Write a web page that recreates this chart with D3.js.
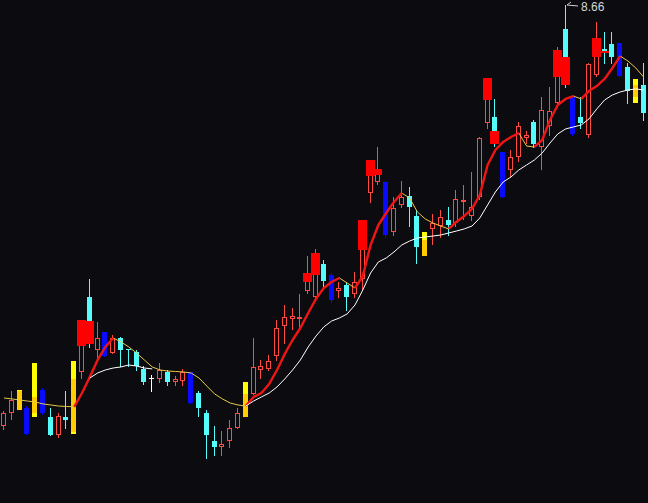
<!DOCTYPE html>
<html><head><meta charset="utf-8">
<script src="https://cdn.jsdelivr.net/npm/d3@7"></script>
<style>html,body{margin:0;padding:0;background:#0c0c10;overflow:hidden}</style>
</head><body>
<svg id="chart" width="648" height="503"></svg>
<script>
// ---- data (price values) ----
const openP = [
  5.88, 5.97, 5.99, 6.00, 5.97, 6.12, 5.94, 5.82, 5.94, 5.84,
  6.24, 6.73, 6.38, 6.50, 6.36, 6.46, 6.39, 6.37, 6.26, 6.20,
  6.19, 6.24, 6.17, 6.18, 6.24, 6.10, 5.97, 5.78, 5.74, 5.78,
  5.87, 5.94, 6.09, 6.25, 6.26, 6.34, 6.54, 6.59, 6.59, 6.77,
  6.73, 6.95, 6.88, 6.77, 6.81, 6.75, 6.85, 7.42, 7.49, 7.49,
  7.16, 7.34, 7.40, 7.27, 7.00, 7.18, 7.20, 7.24, 7.22, 7.36,
  7.27, 7.39, 7.88, 7.92, 7.69, 7.57, 7.66, 7.78, 7.89, 7.72,
  7.86, 8.01, 8.50, 8.05, 7.92, 7.80, 8.20, 8.37, 8.40, 8.41,
  8.25, 8.05, 8.13];
const highP = [
  5.98, 6.11, 6.12, 6.01, 6.30, 6.13, 6.00, 5.97, 6.11, 6.31,
  6.58, 6.85, 6.57, 6.50, 6.48, 6.47, 6.39, 6.38, 6.28, 6.22,
  6.30, 6.25, 6.21, 6.26, 6.24, 6.11, 5.99, 5.88, 5.85, 5.92,
  6.00, 6.17, 6.46, 6.32, 6.35, 6.58, 6.68, 6.66, 6.75, 7.00,
  7.05, 6.98, 6.89, 6.83, 6.83, 6.90, 7.24, 7.64, 7.72, 7.50,
  7.39, 7.50, 7.46, 7.31, 7.16, 7.28, 7.31, 7.33, 7.44, 7.47,
  7.56, 7.79, 8.18, 8.04, 7.69, 7.70, 7.89, 7.83, 7.90, 8.05,
  8.12, 8.38, 8.66, 8.06, 8.05, 8.28, 8.55, 8.48, 8.48, 8.41,
  8.28, 8.17, 8.28];
const lowP = [
  5.86, 5.93, 5.99, 5.83, 5.94, 5.96, 5.82, 5.81, 5.87, 5.83,
  6.20, 6.40, 6.33, 6.34, 6.36, 6.28, 6.28, 6.25, 6.16, 6.11,
  6.17, 6.15, 6.15, 6.15, 6.03, 5.95, 5.67, 5.69, 5.69, 5.74,
  5.87, 5.94, 6.09, 6.20, 6.25, 6.32, 6.43, 6.52, 6.53, 6.76,
  6.71, 6.79, 6.70, 6.73, 6.65, 6.73, 6.78, 7.36, 7.48, 7.13,
  7.14, 7.33, 7.20, 6.96, 7.00, 7.08, 7.13, 7.14, 7.20, 7.25,
  7.24, 7.38, 7.85, 7.73, 7.39, 7.53, 7.63, 7.75, 7.72, 7.58,
  7.80, 7.99, 8.12, 7.80, 7.85, 7.79, 8.19, 8.28, 8.28, 8.19,
  8.01, 8.01, 7.90];
const closeP = [
  5.97, 6.05, 6.11, 5.83, 6.07, 5.97, 5.82, 5.95, 5.92, 6.19,
  6.58, 6.42, 6.46, 6.34, 6.46, 6.38, 6.38, 6.28, 6.17, 6.20,
  6.25, 6.17, 6.19, 6.24, 6.03, 6.00, 5.82, 5.74, 5.76, 5.87,
  5.97, 6.09, 6.27, 6.28, 6.31, 6.53, 6.60, 6.61, 6.60, 6.89,
  7.02, 6.84, 6.71, 6.79, 6.73, 6.83, 7.24, 7.64, 7.58, 7.14,
  7.32, 7.39, 7.33, 7.06, 7.11, 7.22, 7.26, 7.21, 7.38, 7.37,
  7.33, 7.78, 8.18, 7.74, 7.39, 7.66, 7.86, 7.80, 7.74, 7.97,
  7.96, 8.36, 8.13, 7.81, 7.88, 8.27, 8.44, 8.34, 8.32, 8.19,
  8.09, 8.13, 7.95];
// signal per bar: '' none, 'R' strong-up mark, 'B' blue stick, 'Y' yellow stick
const signal = [
  '', '', 'Y', 'B', 'Y', 'B', '', '', '', 'Y',
  'R','R', '', 'B', '', '', '', '', '', '',
  '', '', '', '', 'B', '', '', '', '', '',
  '', 'Y', '', '', '', '', '', '', '', 'R',
  'R', '', 'B', '', '', '', 'R','R','R','B',
  '', '', '', '', 'Y', '', '', '', '', '',
  '', '', 'R','R','B', '', '', '', '', '',
  '', 'R','R','B', '', '', 'R','R', '', 'B',
  '', 'Y', ''];
const maFast = [
  6.066, 6.060, 6.053, 6.046, 6.040, 6.027, 6.020, 6.013, 6.010, 6.008,
  6.099, 6.205, 6.317, 6.403, 6.462, 6.436, 6.403, 6.363, 6.317, 6.271,
  6.251, 6.244, 6.241, 6.238, 6.231, 6.198, 6.145, 6.093, 6.060, 6.033,
  6.020, 6.013, 6.073, 6.099, 6.159, 6.251, 6.357, 6.449, 6.528, 6.627,
  6.720, 6.792, 6.832, 6.858, 6.825, 6.792, 6.871, 7.076, 7.208, 7.287,
  7.360, 7.419, 7.386, 7.294, 7.248, 7.221, 7.201, 7.182, 7.228, 7.267,
  7.314, 7.406, 7.604, 7.703, 7.756, 7.789, 7.815, 7.729, 7.723, 7.769,
  7.901, 8.000, 8.040, 8.059, 8.040, 8.092, 8.125, 8.172, 8.244, 8.323,
  8.290, 8.244, 8.185];
const maSlow = [
  null, null, null, null, null, null, null, null, null, null,
  null, 6.198, 6.231, 6.251, 6.264, 6.271, 6.284, 6.277, 6.264, 6.258,
  null, null, null, null, null, null, null, null, null, null,
  null, 6.013, 6.046, 6.073, 6.099, 6.139, 6.192, 6.251, 6.317, 6.403,
  6.475, 6.535, 6.574, 6.594, 6.621, 6.680, 6.779, 6.891, 6.964, 6.990,
  7.030, 7.076, 7.102, 7.122, 7.129, 7.135, 7.142, 7.155, 7.168, 7.182,
  7.201, 7.254, 7.340, 7.426, 7.492, 7.525, 7.571, 7.604, 7.637, 7.683,
  7.749, 7.809, 7.842, 7.855, 7.868, 7.908, 7.974, 8.033, 8.066, 8.086,
  8.099, 8.106, 8.099];

// ---- drawing ----
const W = 648, H = 503;
const C = {bg:'#0c0c10', up:'#ff4a42', down:'#54fcfc', red:'#ff0000', blue:'#0a0aff',
           yellow:'#ffff00', orange:'#ffcc00', doji:'#ffffff', ma:'#e8c848', maUp:'#f01515', slow:'#ffffff'};
const svg = d3.select('#chart');
svg.append('rect').attr('width', W).attr('height', H).attr('fill', C.bg);

const idx = d3.range(openP.length);
const x = d3.scaleBand().domain(idx).range([0.1, 647.5]).padding(0);
const cx = i => x(i) + x.bandwidth() / 2;
const y = d3.scaleLinear().domain([d3.min(lowP), d3.max(highP)]).range([458, 5]);

const g = svg.append('g');
function vline(px, y1, y2, col) {
  if (y2 <= y1) return;
  g.append('line').attr('x1', px - 0.5).attr('x2', px - 0.5).attr('y1', y1).attr('y2', y2)
    .attr('stroke', col).attr('stroke-width', 1);
}
idx.forEach(i => {
  const o = openP[i], c = closeP[i], h = highP[i], l = lowP[i], s = signal[i];
  const px = Math.round(cx(i));
  const yT = Math.round(y(Math.max(o, c))), yB = Math.round(y(Math.min(o, c)));
  const yH = Math.round(y(h)), yL = Math.round(y(l));
  if (s === 'B') {
    vline(px, yH, yL + 1, C.blue);
    g.append('rect').attr('x', px - 3).attr('y', yT).attr('width', 5)
      .attr('height', Math.max(1, yB - yT)).attr('fill', C.blue);
    return;
  }
  if (s === 'Y') {
    g.append('rect').attr('x', px - 3).attr('y', yH).attr('width', 5)
      .attr('height', Math.max(1, yL - yH)).attr('fill', C.yellow);
    g.append('rect').attr('x', px - 3).attr('y', yT).attr('width', 5)
      .attr('height', Math.max(1, yB - yT)).attr('fill', C.orange);
    return;
  }
  if (c > o) {
    vline(px, yH, yT, C.up);
    vline(px, yB, yL + 1, C.up);
    g.append('rect').attr('x', px - 2.5).attr('y', yT + 0.5).attr('width', 4)
      .attr('height', Math.max(0, yB - yT - 1)).attr('fill', 'none')
      .attr('stroke', C.up).attr('stroke-width', 1);
  } else if (c < o) {
    vline(px, yH, yL + 1, C.down);
    g.append('rect').attr('x', px - 3).attr('y', yT).attr('width', 5)
      .attr('height', Math.max(1, yB - yT)).attr('fill', C.down);
  } else {
    vline(px, yH, yL + 1, C.doji);
    g.append('rect').attr('x', px - 3).attr('y', yT).attr('width', 5).attr('height', 1).attr('fill', C.doji);
  }
  if (s === 'R') {
    const yc = Math.round(y(c)), ym = Math.round(y((o + c) / 2));
    g.append('rect').attr('x', px - 5).attr('y', Math.min(yc, ym)).attr('width', 9)
      .attr('height', Math.max(1, Math.abs(ym - yc))).attr('fill', C.red);
  }
});

// moving averages
const line = d3.line().x(i => cx(i)).y(i => y(maFast[i]));
svg.append('path').attr('d', line(idx)).attr('fill', 'none').attr('stroke', C.ma).attr('stroke-width', 1);
// rising runs in red
let runs = [], cur = null;
for (let i = 1; i < idx.length; i++) {
  if (maFast[i] > maFast[i - 1]) {
    if (!cur) { cur = [i - 1]; runs.push(cur); }
    cur.push(i);
  } else cur = null;
}
runs.forEach(r => svg.append('path').attr('d', line(r)).attr('fill', 'none')
  .attr('stroke', C.maUp).attr('stroke-width', 2.4).attr('stroke-linejoin', 'round'));

const slowLine = d3.line().defined(i => maSlow[i] != null).x(i => cx(i)).y(i => y(maSlow[i]));
svg.append('path').attr('d', slowLine(idx)).attr('fill', 'none').attr('stroke', C.slow).attr('stroke-width', 1);

// max price marker
const iMax = d3.maxIndex(highP);
const mx = Math.round(cx(iMax)), my = y(highP[iMax]);
svg.append('path').attr('d', `M${mx + 1},${my} L${mx + 5},${my - 3} M${mx + 1},${my} L${mx + 12},${my + 1}`)
  .attr('stroke', '#d0d0d0').attr('stroke-width', 1).attr('fill', 'none');
svg.append('text').attr('x', mx + 15).attr('y', my + 6)
  .attr('font-family', 'Liberation Sans, Arial, sans-serif').attr('font-size', 12)
  .attr('fill', '#d8d8d8').text(highP[iMax].toFixed(2));
</script>
</body></html>
